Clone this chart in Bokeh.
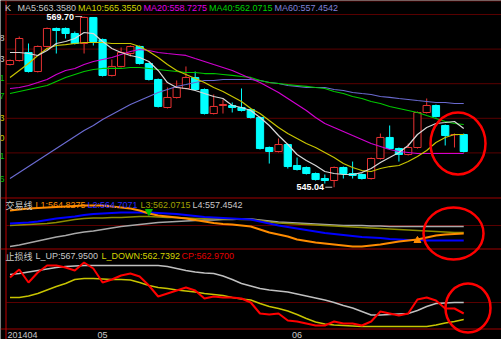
from bokeh.plotting import figure
from bokeh.models import Range1d, ColumnDataSource
from bokeh.core.properties import value
from bokeh.embed import file_html
from bokeh.resources import INLINE

# ---------------- data ----------------
bar_index = list(range(50))
open_p = [562.77, 563.35, 564.51, 561.76, 565.38, 567.98, 567.98, 567.25, 565.81, 569.57,
          566.39, 561.19, 562.49, 564.36, 565.38, 562.92, 560.61, 556.56, 558.01, 559.31,
          560.90, 559.16, 555.69, 556.85, 556.85, 556.56, 556.27, 555.12, 550.78, 550.20,
          551.21, 548.18, 547.89, 547.02, 546.30, 546.01, 547.89, 547.02, 546.88, 546.30,
          549.19, 552.23, 550.63, 549.77, 550.78, 555.84, 556.85, 553.96, 552.62, 552.66]
high_p = [563.50, 566.82, 565.81, 565.52, 568.12, 568.12, 568.12, 567.54, 569.70, 569.57,
          566.53, 563.50, 565.23, 565.52, 565.52, 563.06, 560.75, 559.45, 560.46, 562.49,
          561.76, 559.31, 558.44, 557.72, 557.28, 559.31, 556.42, 555.26, 550.92, 552.08,
          551.36, 549.33, 548.03, 547.16, 546.88, 548.03, 548.03, 548.75, 547.02, 549.33,
          552.80, 553.96, 550.78, 551.36, 555.98, 557.86, 556.99, 554.10, 552.80, 552.80]
low_p = [562.63, 563.21, 561.62, 561.62, 565.23, 564.36, 566.53, 565.66, 564.36, 565.52,
         561.04, 561.04, 562.34, 563.93, 562.77, 560.46, 556.56, 556.42, 557.86, 559.16,
         559.02, 555.55, 555.55, 555.69, 555.84, 555.98, 554.97, 550.49, 548.46, 550.06,
         547.74, 547.45, 546.88, 546.01, 545.57, 545.04, 546.30, 546.30, 546.15, 546.15,
         549.04, 550.49, 548.75, 549.62, 550.63, 555.69, 555.12, 551.07, 550.78, 550.06]
close_p = [563.35, 566.53, 561.76, 565.38, 567.98, 567.69, 567.25, 565.81, 569.57, 566.10,
           561.19, 562.49, 564.51, 565.38, 562.92, 560.61, 556.71, 558.01, 559.45, 560.90,
           559.16, 555.69, 556.71, 556.99, 556.56, 556.13, 555.12, 550.63, 550.20, 551.21,
           548.03, 547.60, 547.02, 546.15, 546.01, 547.89, 547.02, 546.73, 546.30, 549.19,
           552.23, 550.63, 549.77, 550.78, 555.84, 556.85, 555.26, 552.51, 552.66, 550.20]

ma5 = [564.51, 564.51, 564.36, 564.08, 564.80, 565.81, 566.10, 566.53, 567.40, 567.25,
       566.10, 565.09, 564.51, 564.08, 563.79, 563.21, 561.91, 560.17, 559.45, 559.31,
       559.02, 558.58, 558.15, 557.86, 556.85, 556.56, 556.13, 555.12, 553.96, 552.51,
       551.21, 549.77, 548.90, 548.18, 547.31, 547.02, 546.88, 546.88, 547.16, 547.74,
       548.61, 549.33, 550.06, 551.07, 552.66, 553.67, 554.25, 554.39, 554.54, 553.53]
ma10 = [560.90, 561.91, 562.92, 564.08, 565.09, 565.52, 565.66, 565.81, 565.95, 565.95,
        565.95, 565.81, 565.81, 565.81, 565.38, 564.65, 563.79, 562.77, 561.91, 561.33,
        560.75, 560.17, 559.45, 558.87, 558.15, 557.43, 556.42, 555.69, 554.68, 553.67,
        552.80, 552.08, 551.36, 550.78, 550.06, 549.33, 548.46, 547.89, 547.45, 547.31,
        547.74, 548.03, 548.18, 548.75, 549.48, 550.34, 551.50, 552.23, 552.66, 552.66]
ma20 = [559.31, 559.45, 559.74, 560.17, 560.61, 561.33, 561.91, 562.20, 562.77, 563.21,
        563.50, 563.79, 564.22, 564.65, 564.94, 564.80, 564.51, 564.36, 564.22, 564.08,
        563.64, 563.21, 562.77, 562.34, 561.91, 561.33, 560.75, 560.17, 559.45, 558.73,
        557.86, 556.99, 556.13, 555.12, 554.25, 553.67, 553.09, 552.51, 551.94, 551.36,
        550.92, 550.49, 550.20, 550.06, 549.91, 549.91, 549.91, 549.91, 549.91, 549.91]
ma40 = [558.58, 558.87, 559.16, 559.45, 559.74, 560.32, 560.90, 561.33, 561.76, 562.05,
        562.20, 562.20, 562.20, 562.34, 562.34, 562.20, 562.05, 561.91, 561.76, 561.62,
        561.62, 561.47, 561.47, 561.33, 561.19, 561.04, 560.90, 560.46, 560.17, 560.03,
        559.88, 559.74, 559.60, 559.45, 559.31, 558.87, 558.58, 558.15, 557.86, 557.43,
        557.14, 556.71, 556.42, 556.13, 555.84, 555.40, 554.97, 554.54, 554.25, 554.10]
ma60 = [546.30, 547.16, 548.03, 548.90, 549.77, 550.63, 551.50, 552.37, 553.24, 553.96,
        554.83, 555.55, 556.27, 556.99, 557.57, 558.15, 558.73, 559.16, 559.60, 559.88,
        560.17, 560.46, 560.46, 560.61, 560.61, 560.61, 560.61, 560.46, 560.17, 560.03,
        559.74, 559.60, 559.45, 559.45, 559.45, 559.16, 559.02, 558.73, 558.58, 558.44,
        558.15, 558.01, 557.86, 557.72, 557.57, 557.43, 557.28, 557.28, 557.14, 557.14]

# 交易线 panel
l1 = [564.0, 564.2, 564.4, 564.5, 564.6, 564.7, 564.8, 564.9, 565.0, 565.0,
      565.0, 564.8, 564.6, 564.4, 564.0, 563.4, 563.0, 562.8, 562.6, 562.4,
      562.1, 561.8, 561.5, 561.3, 561.2, 561.0, 560.8, 560.2, 559.6, 559.2,
      558.8, 558.2, 557.9, 557.6, 557.4, 557.2, 557.0, 556.8, 556.8, 557.0,
      557.2, 557.5, 557.8, 558.0, 558.2, 558.6, 559.0, 559.2, 559.3, 559.4]
l2 = [561.4, 561.5, 561.6, 561.8, 562.1, 562.4, 562.6, 562.8, 563.1, 563.3,
      563.4, 563.5, 563.6, 563.6, 563.6, 563.6, 563.5, 563.4, 563.3, 563.1,
      562.9, 562.7, 562.6, 562.5, 562.4, 562.3, 562.2, 561.8, 561.4, 561.0,
      560.7, 560.4, 560.1, 559.8, 559.5, 559.3, 559.1, 558.9, 558.7, 558.6,
      558.5, 558.3, 558.2, 558.1, 558.1, 558.0, 558.0, 558.0, 558.0, 558.0]
l3 = [561.0, 561.1, 561.2, 561.3, 561.4, 561.6, 561.9, 562.2, 562.4, 562.5,
      562.5, 562.6, 562.6, 562.7, 562.8, 562.8, 562.7, 562.6, 562.6, 562.5,
      562.4, 562.4, 562.4, 562.3, 562.3, 562.2, 562.2, 562.0, 561.7, 561.5,
      561.4, 561.3, 561.2, 561.1, 561.0, 560.9, 560.8, 560.7, 560.6, 560.5,
      560.4, 560.3, 560.2, 560.1, 560.0, 559.9, 559.8, 559.7, 559.6, 559.6]
l4 = [556.8, 557.1, 557.5, 557.9, 558.3, 558.7, 559.0, 559.4, 559.7, 559.9,
      560.2, 560.5, 560.8, 561.0, 561.2, 561.4, 561.6, 561.7, 561.8, 561.9,
      562.0, 562.1, 562.1, 562.2, 562.2, 562.3, 562.3, 562.1, 561.9, 561.7,
      561.6, 561.5, 561.4, 561.3, 561.2, 561.1, 561.0, 561.0, 561.0, 560.9,
      560.9, 560.8, 560.8, 560.8, 560.8, 560.8, 560.8, 560.8, 560.8, 560.8]
sell_signal_index = [15]
sell_signal_value = [563.8]
buy_signal_index = [44]
buy_signal_value = [558.0]

# 止损线 panel
l_up = [567.6, 567.8, 568.1, 568.4, 568.7, 569.0, 569.2, 569.3, 569.4, 569.4,
        569.4, 569.4, 569.4, 569.4, 569.4, 569.4, 569.4, 569.2, 568.8, 568.4,
        568.1, 567.9, 567.8, 567.3, 566.6, 565.8, 565.3, 564.8, 564.5, 564.3,
        564.1, 563.7, 563.3, 562.9, 562.5, 562.0, 561.4, 560.9, 560.2, 559.5,
        559.5, 559.6, 559.7, 559.8, 560.4, 561.2, 561.8, 561.9, 562.0, 562.0]
l_down = [563.0, 563.0, 563.3, 563.8, 564.5, 565.2, 565.8, 566.6, 566.8, 566.8,
          566.7, 566.6, 566.6, 566.5, 566.0, 565.4, 565.0, 564.8, 564.5, 564.3,
          564.1, 563.8, 563.6, 563.4, 563.0, 562.7, 562.5, 561.8, 561.2, 560.8,
          560.3, 559.6, 558.8, 558.1, 557.7, 557.5, 557.4, 557.3, 557.2, 557.2,
          557.2, 557.2, 557.2, 557.2, 557.2, 557.2, 557.5, 557.9, 558.2, 558.6]
cp = [567.0, 568.6, 566.0, 568.0, 569.4, 569.4, 569.0, 568.4, 570.0, 568.8,
      566.0, 566.6, 567.4, 567.8, 567.2, 565.4, 563.2, 563.8, 564.4, 565.0,
      564.4, 562.8, 563.2, 563.0, 563.0, 562.8, 562.0, 559.8, 559.6, 559.8,
      558.4, 558.2, 557.8, 557.4, 557.4, 558.2, 557.8, 557.8, 557.4, 558.2,
      560.2, 559.8, 559.4, 559.8, 562.6, 563.0, 562.4, 560.8, 560.8, 559.8]

month_index = [10, 31]
month_labels = ["05", "06"]
first_label = "201404"
price_grid = [570, 565, 560, 555, 550]
trade_grid = [561.0]
stop_grid = [562.0]
high_mark_index, high_mark_value, high_mark_text = 8, 569.70, "569.70"
low_mark_index, low_mark_value, low_mark_text = 35, 545.04, "545.04"

main_header = ["K", "MA5:563.3580", "MA10:565.3550", "MA20:558.7275", "MA40:562.0715", "MA60:557.4542"]
trade_title = "交易线"
trade_header = ["L1:564.8275", "L2:564.7071", "L3:562.0715", "L4:557.4542"]
stop_title = "止损线"
stop_header = ["L_UP:567.9500", "L_DOWN:562.7392", "CP:562.9700"]

# ---------------- styling ----------------
W, H = 501, 339
FONT = value("Liberation Sans")
CJK = value("Noto Sans CJK SC")
UP = "#e83232"
DOWN = "#00ffff"
GRID = "#5a0000"
BORDER = "#a00000"

p = figure(width=W, height=H, output_backend="svg", toolbar_location=None,
           x_range=Range1d(-1.026, 53.078), y_range=Range1d(523.034, 572.023),
           x_axis_location=None, y_axis_location=None, min_border=0,
           background_fill_color="black", border_fill_color="black")
p.grid.visible = False
p.outline_line_color = None
p.extra_y_ranges = {"px": Range1d(H, 0), "p2": Range1d(538.2, 606.0), "p3": Range1d(554.6, 622.4)}
p.extra_x_ranges = {"pxx": Range1d(0, W)}

# frame lines
p.segment(x0=[6] * len(price_grid), x1=[W] * len(price_grid), y0=price_grid, y1=price_grid,
          x_range_name="pxx", line_color=GRID, line_width=1)
p.segment(x0=[6], x1=[W], y0=trade_grid, y1=trade_grid, x_range_name="pxx",
          y_range_name="p2", line_color=GRID, line_width=1)
p.segment(x0=[6], x1=[W], y0=stop_grid, y1=stop_grid, x_range_name="pxx",
          y_range_name="p3", line_color=GRID, line_width=1)
p.segment(x0=[0], x1=[W], y0=[0.5], y1=[0.5], x_range_name="pxx", y_range_name="px",
          line_color=GRID, line_width=1)
p.segment(x0=[0, 0, 0], x1=[W, W, W], y0=[197.5, 248.5, 328.5], y1=[197.5, 248.5, 328.5],
          x_range_name="pxx", y_range_name="px", line_color=BORDER, line_width=1)
p.segment(x0=[5.5], x1=[5.5], y0=[0], y1=[H], x_range_name="pxx", y_range_name="px",
          line_color="#c00000", line_width=1)

# candles
def pick(arr, mask):
    return [a for a, m in zip(arr, mask) if m]

is_up = [c >= o for o, c in zip(open_p, close_p)]
is_dn = [not u for u in is_up]
for mask, col, fill in ((is_up, UP, "black"), (is_dn, DOWN, DOWN)):
    o = pick(open_p, mask)
    c = pick(close_p, mask)
    src = ColumnDataSource(dict(
        x=pick(bar_index, mask), high=pick(high_p, mask), low=pick(low_p, mask),
        top=[max(a, b) for a, b in zip(o, c)], bottom=[min(a, b) for a, b in zip(o, c)]))
    p.segment(x0="x", x1="x", y0="high", y1="low", source=src, line_color=col, line_width=1)
    p.vbar(x="x", width=0.78, top="top", bottom="bottom", source=src,
           fill_color=fill, line_color=col, line_width=1)

# moving averages
for ser, col in ((ma60, "#6a6ad0"), (ma40, "#00c800"), (ma20, "#d000d0"),
                 (ma10, "#c8c400"), (ma5, "#d8d8d8")):
    p.line(bar_index, ser, line_color=col, line_width=1.2)

# high / low marks
for k, v, t in ((high_mark_index, high_mark_value, high_mark_text),
                (low_mark_index, low_mark_value, low_mark_text)):
    p.text(x=[k], y=[v], text=[t], text_align="right", text_baseline="middle", x_offset=-10,
           text_color="white", text_font=FONT, text_font_size="9px", text_font_style="bold")
    p.segment(x0=[k - 0.95], x1=[k - 0.2], y0=[v], y1=[v], line_color="#c8c8c8", line_width=1)

# 交易线 lines
for ser, col, lw in ((l4, "#a8a8a8", 1.4), (l3, "#8c8c00", 1.4), (l2, "#0000ff", 2.0), (l1, "#ff8c00", 2.0)):
    p.line(bar_index, ser, y_range_name="p2", line_color=col, line_width=lw)
p.scatter(sell_signal_index, sell_signal_value, marker="inverted_triangle", size=7,
          y_range_name="p2", fill_color="#00c000", line_color="#00c000")
p.scatter(buy_signal_index, buy_signal_value, marker="triangle", size=7,
          y_range_name="p2", fill_color="#ff8c00", line_color="#ff8c00")

# 止损线 lines
for ser, col, lw in ((l_up, "#c0c0c0", 1.4), (l_down, "#c8c400", 1.4), (cp, "#ff0000", 2.0)):
    p.line(bar_index, ser, y_range_name="p3", line_color=col, line_width=lw)

# header texts
def texts(xs, y, labels, colors, font):
    src = ColumnDataSource(dict(x=xs, y=[y] * len(xs), t=labels, c=colors))
    p.text(x="x", y="y", text="t", text_color="c", source=src, x_range_name="pxx",
           y_range_name="px", text_align="left", text_baseline="middle",
           text_font=font, text_font_size="9px")

texts([4.5, 17, 77.5, 143, 208.5, 274], 7.5, main_header,
      ["#c8c8c8", "#c8c8c8", "#d2d200", "#e000e0", "#00d000", "#8080d8"], FONT)
texts([5], 204.5, [trade_title], ["#c8c8c8"], CJK)
texts([35, 87, 140, 192], 204.5, trade_header, ["#ff8c00", "#2828ff", "#a0a000", "#c8c8c8"], FONT)
texts([5], 255.5, [stop_title], ["#c8c8c8"], CJK)
texts([35, 101, 181], 255.5, stop_header, ["#c8c8c8", "#d2d200", "#e00000"], FONT)
texts([7], 334, [first_label], ["#c8c8c8"], FONT)

# left cropped axis fragments
frag_y = [37, 58, 77, 95, 117, 137, 155, 178]
frag_t = ["8", "3", "1", "7", "3", "0", "1", "6"]
frag_c = ["#c8c8c8", "#c8c8c8", "#00c000", "#00c000", "#c8c400", "#c8c400", "#00c000", "#00c000"]
p.text(x=[4] * len(frag_y), y=frag_y, text=frag_t, text_color=frag_c, x_range_name="pxx",
       y_range_name="px", text_align="right", text_baseline="middle",
       text_font=FONT, text_font_size="9px")

# month labels
p.text(x=month_index, y=[334, 334], text=month_labels, y_range_name="px",
       text_align="center", text_baseline="middle", text_color="#c8c8c8",
       text_font=FONT, text_font_size="9px")

# hand-drawn highlight circles
p.ellipse(x=[457.5, 453, 467.5], y=[143, 233, 307.5], width=[55, 60, 45], height=[62, 52, 49],
          width_units="screen", height_units="screen", x_range_name="pxx", y_range_name="px",
          fill_color=None, line_color="#ff0000", line_width=2.5)

open("out.html", "w").write(file_html(p, INLINE))
